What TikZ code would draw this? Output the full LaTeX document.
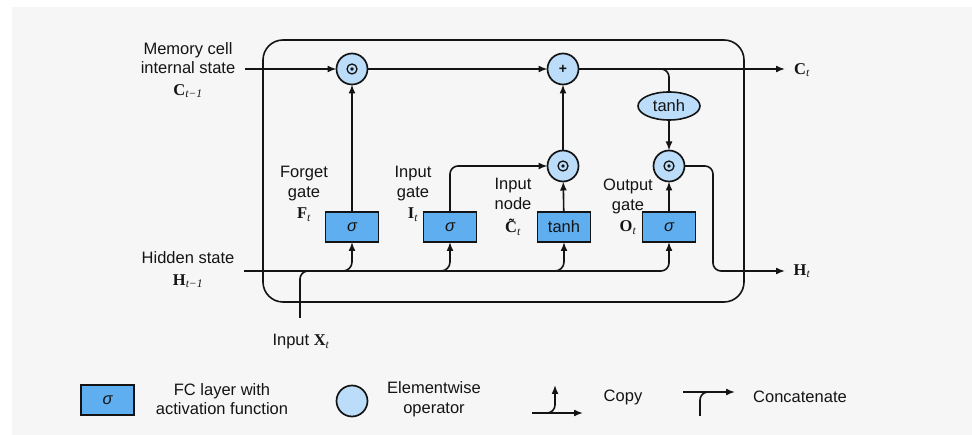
\documentclass[tikz,border=0pt]{standalone}
\usepackage{fontspec}
\setmainfont{Liberation Sans}
\newfontfamily\symserif{Liberation Serif}
\usetikzlibrary{arrows.meta,calc,shapes.geometric}
\definecolor{fcblue}{RGB}{95,175,240}
\definecolor{opblue}{RGB}{188,221,250}
\definecolor{panel}{RGB}{246,246,246}
\definecolor{ink}{RGB}{20,20,20}
% bold serif symbol with italic subscript
\newcommand{\vsub}[2]{{\symserif\bfseries #1}\textsubscript{\symserif\itshape #2}}
\begin{document}
\begin{tikzpicture}[x=1pt,y=-1pt,
  every node/.style={inner sep=0pt, outer sep=0pt, font=\fontsize{16.5}{19.5}\selectfont, text=ink},
  fc/.style={draw=ink, fill=fcblue, line width=1.5pt, minimum width=53pt, minimum height=30pt},
  op/.style={circle, draw=ink, fill=opblue, line width=1.7pt, minimum size=31pt},
  dotop/.style={op, path picture={\draw[ink, line width=1.3pt] (path picture bounding box.center) circle (5pt);
      \fill[ink] (path picture bounding box.center) circle (1.8pt);}},
  wire/.style={draw=ink, line width=1.6pt, rounded corners=8pt},
  flow/.style={wire, -{Latex[length=9pt,width=7pt]}},
  lbl/.style={align=center},
]
\useasboundingbox (0,0) rectangle (972,435);
\fill[white] (0,0) rectangle (972,435);
\fill[panel] (12,7) rectangle (972,435);

% LSTM cell frame
\node[draw=ink, line width=1.6pt, rounded corners=20pt, minimum width=481pt, minimum height=262pt] (cell) at (503.5,171) {};

% elementwise operators
\node[dotop] (c1) at (352,69) {};
\node[op] (cp) at (563,69) {\fontsize{14}{14}\selectfont\bfseries +};
\node[dotop] (c2) at (563,166) {};
\node[dotop] (c3) at (669,166) {};
\node[ellipse, draw=ink, fill=opblue, line width=1.6pt, minimum width=62pt, minimum height=28pt] (th) at (669,106) {tanh};

% fully connected layers
\node[fc] (f) at (352,227) {\itshape σ};
\node[fc] (i) at (450,227) {\itshape σ};
\node[fc] (g) at (564,227) {tanh};
\node[fc] (o) at (669,227) {\itshape σ};

% memory cell path
\coordinate (cin) at (245,69);
\coordinate (cout) at (785,69);
\coordinate (tbr) at (640,69);
\draw[flow] (cin) -- (c1);
\draw[flow] (c1) -- (cp);
\draw[flow] (cp) -- (cout);
\draw[wire] (tbr) -| (th.north);
\draw[flow] (th) -- (c3);

% gate outputs
\draw[flow] (f) -- (c1);
\draw[flow] (g) -- (c2);
\draw[flow] (c2) -- (cp);
\draw[flow] (o) -- (c3);
\draw[flow] (i.north) |- (c2.west);

% hidden state output
\coordinate (hturn) at (713,271);
\coordinate (hout) at (785,271);
\draw[flow] (c3.east) -| (hturn) -- (hout);

% hidden state and input, concatenated and copied to every layer
\coordinate (hin) at (244,271);
\coordinate (xin) at (300,318);
\draw[flow] (hin) -| (o.south);
\draw[wire] (xin) |- ($(xin |- hin)+(25,0)$);
\draw[flow, rounded corners=9pt] ($(f.south |- hin)+(-14,0)$) -| (f.south);
\draw[flow, rounded corners=9pt] ($(i.south |- hin)+(-14,0)$) -| (i.south);
\draw[flow, rounded corners=9pt] ($(g.south |- hin)+(-14,0)$) -| (g.south);

% labels
\node[lbl] (lmem) at (188,70) {Memory cell\\internal state\\[2pt]\vsub{C}{t−1}};
\node[lbl] (lforget) at (304,194) {Forget\\gate\\[2pt]\vsub{F}{t}};
\node[lbl] (linput) at (413,194) {Input\\gate\\[2pt]\vsub{I}{t}};
\node[lbl] (lnode) at (513,207) {Input\\node\\[4pt]\vsub{\~{C}}{t}};
\node[lbl] (lout) at (628,207) {Output\\gate\\[2pt]\vsub{O}{t}};
\node[lbl] (lhid) at (188,270) {Hidden state\\[2pt]\vsub{H}{t−1}};
\node (lx) at (301,342) {Input \vsub{X}{t}};
\node (lct) at (802,70) {\vsub{C}{t}};
\node (lht) at (802,271) {\vsub{H}{t}};

% legend
\node[fc] (lfc) at (107.5,400) {\itshape σ};
\node[lbl] (lfct) at (222,399) {FC layer with\\activation function};
\node[op] (lop) at (352,401) {};
\node[lbl] (lopt) at (434,399) {Elementwise\\operator};
\coordinate (cpa) at (532,413);
\coordinate (cpb) at (583,413);
\coordinate (cps) at (545,413);
\coordinate (cpt) at (555,385);
\draw[flow] (cpa) -- (cpb);
\draw[flow] (cps) -| (cpt);
\node (lcopy) at (623,397) {Copy};
\coordinate (cca) at (683,392);
\coordinate (ccb) at (735,392);
\coordinate (ccs) at (700,416);
\coordinate (ccm) at (714,392);
\draw[flow] (cca) -- (ccb);
\draw[wire] (ccs) |- (ccm);
\node (lcat) at (800,397) {Concatenate};
\end{tikzpicture}
\end{document}
